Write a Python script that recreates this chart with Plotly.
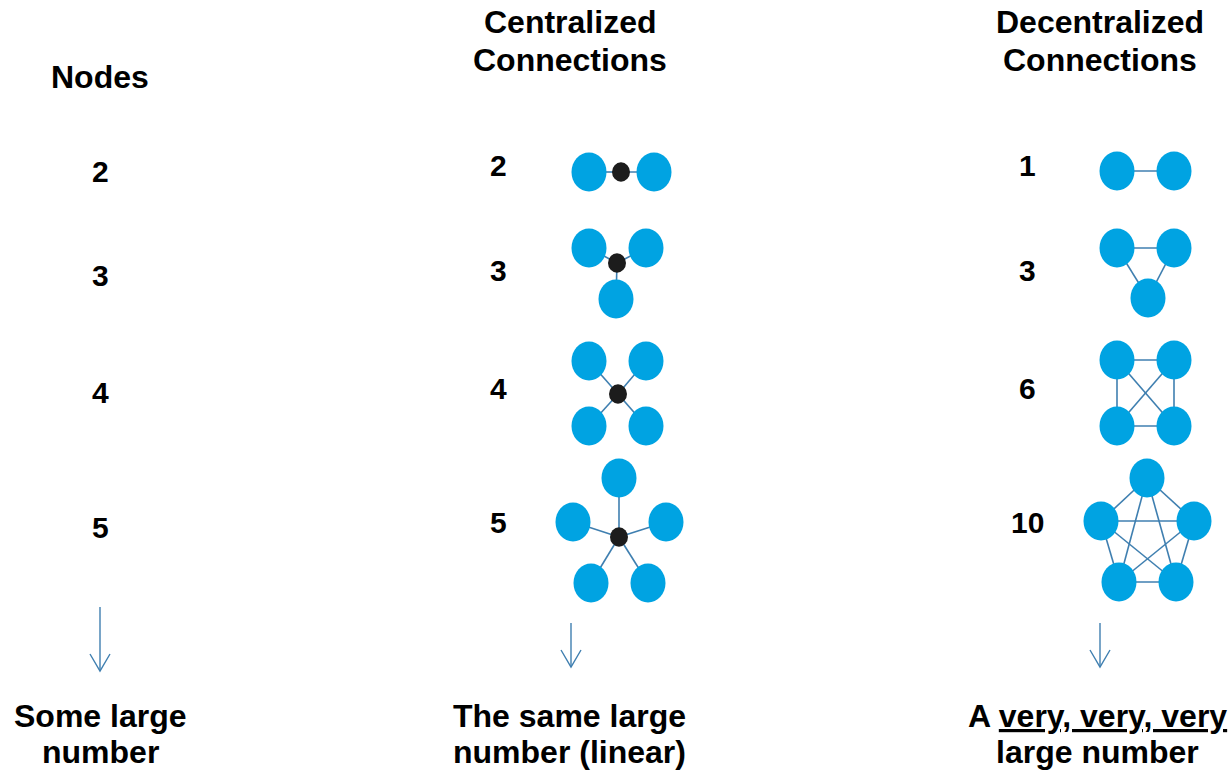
import itertools
import plotly.graph_objects as go

# ---- data ----
node_counts = [2, 3, 4, 5]
centralized_links = [2, 3, 4, 5]
decentralized_links = [1, 3, 6, 10]
header_nodes = "Nodes"
header_central = ["Centralized", "Connections"]
header_decentral = ["Decentralized", "Connections"]
footer_nodes = ["Some large", "number"]
footer_central = ["The same large", "number (linear)"]
footer_decentral = ["A <u>very, very, very</u>", "large number"]

# ---- layout geometry (pixel space) ----
W, H = 1231, 771
BLUE = "#00A3E2"
EDGE = "#3F7FB0"
HUB = "#1C1C1C"
FONT = "Liberation Sans, Arial, sans-serif"

row_y_nodes = [171, 275, 392, 527]
row_y_labels = [165, 270, 388, 522]
x_nodes_col, x_central_num, x_decentral_num = 100, 498, 1027

central_hubs = [(621, 172), (617, 263), (618, 394), (619, 537)]
central_nodes = [
    [(589, 172), (654, 172)],
    [(589, 248), (646, 248), (616, 299)],
    [(589, 361), (646, 361), (589, 426), (646, 426)],
    [(619, 478), (573, 522), (666, 522), (591, 583), (648, 583)],
]
decentral_nodes = [
    [(1117, 171), (1174, 171)],
    [(1117, 248), (1174, 248), (1148, 298)],
    [(1117, 360), (1174, 360), (1117, 426), (1174, 426)],
    [(1147, 478), (1101, 521), (1194, 521), (1119, 582), (1176, 582)],
]
NODE_RX, NODE_RY = 17.5, 19.5
HUB_RX, HUB_RY = 9, 9.7

arrows = [(100, 607, 671), (571, 623, 667), (1100, 623, 667)]
ARM_DX, ARM_DY = 10, 17

fig = go.Figure()
shapes = []

def edge(p, q):
    fig.add_trace(go.Scatter(x=[p[0], q[0]], y=[p[1], q[1]], mode="lines",
                             line=dict(color=EDGE, width=1.6),
                             hoverinfo="skip", showlegend=False))

def ellipse(c, rx, ry, color):
    shapes.append(dict(type="circle", xref="x", yref="y",
                       x0=c[0] - rx, x1=c[0] + rx, y0=c[1] - ry, y1=c[1] + ry,
                       fillcolor=color, line=dict(width=0), layer="above"))

# centralized: each node linked to the hub
for hub, nodes in zip(central_hubs, central_nodes):
    for n in nodes:
        edge(hub, n)
# decentralized: every pair linked
for nodes in decentral_nodes:
    for p, q in itertools.combinations(nodes, 2):
        edge(p, q)

for nodes in central_nodes + decentral_nodes:
    for n in nodes:
        ellipse(n, NODE_RX, NODE_RY, BLUE)
for hub in central_hubs:
    ellipse(hub, HUB_RX, HUB_RY, HUB)

# arrows
for x, y0, y1 in arrows:
    fig.add_trace(go.Scatter(x=[x, x, None, x - ARM_DX, x, x + ARM_DX],
                             y=[y0, y1, None, y1 - ARM_DY, y1, y1 - ARM_DY],
                             mode="lines", line=dict(color=EDGE, width=1.4),
                             hoverinfo="skip", showlegend=False))

ann = []
def text(x, y, s, size):
    ann.append(dict(x=x, y=y, xref="x", yref="y", text="<b>" + s + "</b>",
                    showarrow=False, xanchor="center", yanchor="middle",
                    font=dict(family=FONT, size=size, color="black")))

HS = 32
NS = 30
text(100, 77, header_nodes, HS)
for i, s in enumerate(header_central):
    text(570, 22 + 38 * i, s, HS)
for i, s in enumerate(header_decentral):
    text(1100, 22 + 38 * i, s, HS)

for y, n in zip(row_y_nodes, node_counts):
    text(x_nodes_col, y, str(n), NS)
for y, c in zip(row_y_labels, centralized_links):
    text(x_central_num, y, str(c), NS)
for y, d in zip(row_y_labels, decentralized_links):
    text(x_decentral_num, y, str(d), NS)

for i, s in enumerate(footer_nodes):
    text(100, 716 + 36 * i, s, HS)
for i, s in enumerate(footer_central):
    text(569, 716 + 36 * i, s, HS)
for i, s in enumerate(footer_decentral):
    text(1097, 716 + 36 * i, s, HS)

fig.update_layout(
    width=W, height=H, margin=dict(l=0, r=0, t=0, b=0),
    paper_bgcolor="white", plot_bgcolor="white",
    xaxis=dict(range=[0, W], visible=False, fixedrange=True),
    yaxis=dict(range=[H, 0], visible=False, fixedrange=True),
    shapes=shapes, annotations=ann, showlegend=False,
)
fig.write_html(
    "out.html",
    config={"displayModeBar": False},
    post_script="document.body.style.margin='0';document.body.style.overflow='hidden';",
)
